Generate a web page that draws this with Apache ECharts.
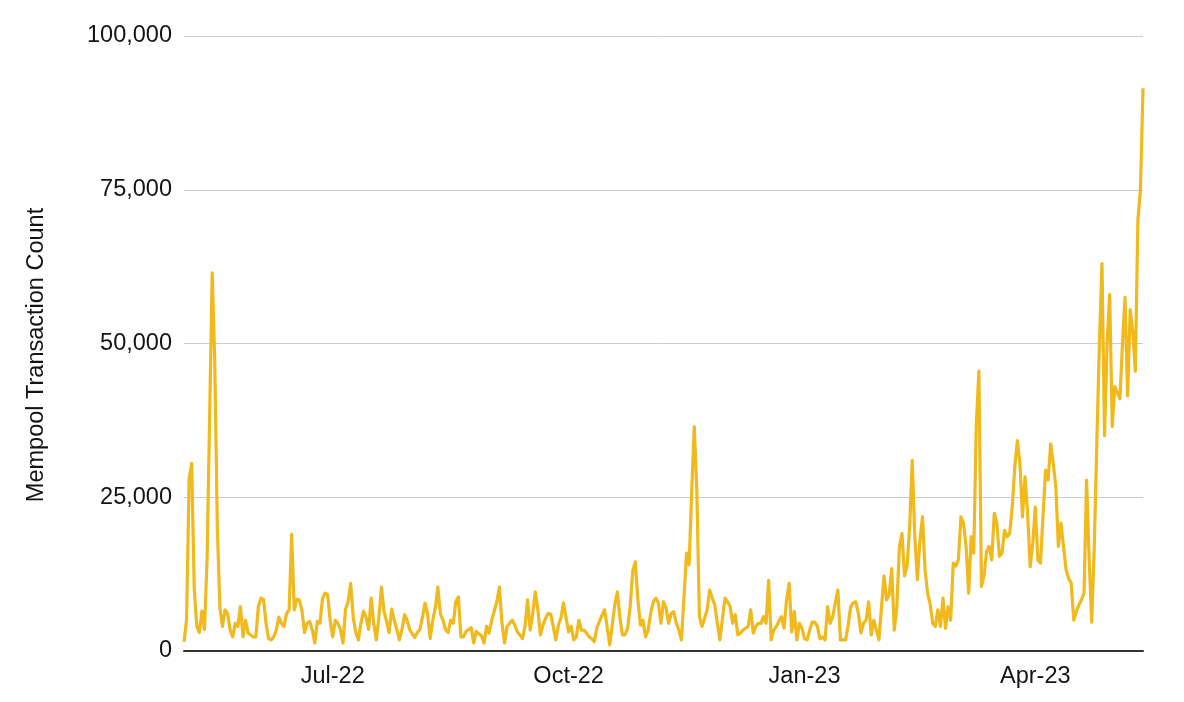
<!DOCTYPE html>
<html>
<head>
<meta charset="utf-8">
<script src="https://cdn.jsdelivr.net/npm/echarts@6/dist/echarts.min.js"></script>
<style>
  html, body { margin: 0; padding: 0; background: #ffffff; }
  #chart { width: 1184px; height: 702px; }
</style>
</head>
<body>
<div id="chart"></div>
<script>
// Daily mempool transaction counts, starting 2022-05-04
var startDate = '2022-05-04';
var mayJun22 = [1500,5000,28000,30500,10000,4000,3000,6500,3500,15000,38000,61500,47000,20000,7000,4000,6700,6100,3400,2300,4500,4000,7200,2300,5000,2900,2600,2300,2300,7200,8600,8400,4500,2000,1800,2300,3400,5500,4500,4000,6100,6700,19000,6700,8400,8300,6500,3000,4500,4800,3500,1300,4800,4500,8500,9400,9200,5000];
var julSep22 = [2300,5000,4500,3500,1300,6800,8000,11000,5500,3000,1800,4500,6500,5500,3500,8600,4500,1800,5500,10400,6500,4800,3000,6800,5000,3500,1800,3500,5900,5000,3500,2800,2200,3000,3500,5500,7800,6000,2000,5000,7000,10400,6000,5000,3500,3000,5000,4500,8000,8800,2300,2300,3200,3500,3800,1300,3200,2800,2500,1300,4000,2900,5000,6500,8000,10400,4500,1300,4000,4500,5000,4200,3100,2600,2000,4000,8300,3400,6100,9600,6700,2600,4200,5300,6100,6000,4000,1800,4200,5400,7800,5400];
var octDec22 = [3100,4000,1800,2300,5000,3400,3400,2900,2300,2000,1500,3700,4800,5800,6700,4000,1000,4200,7500,9600,5400,2600,2600,3700,7200,13000,14500,8300,4200,5000,2300,3400,6100,8000,8600,7800,4500,8000,7000,4500,6100,6400,4500,3400,1800,8800,15900,14000,26000,36500,26000,5600,4000,5300,6700,9900,8600,7500,4500,1800,5300,8600,8000,7200,4500,5900,2600,2900,3400,3700,4000,6700,2900,4000,4500,4500,5600,4500,11500,1800,3400,4000,4800,5600,3700,8300,11000,3100,6400,1800,4500,3700];
var janMar23 = [2000,1800,3400,4700,4700,4000,2000,2300,1800,7200,4500,5600,7800,9900,1800,1800,1800,4200,7200,7800,8000,6100,2900,4500,5000,8000,2600,5000,3400,1800,7000,12200,8300,9100,13400,3400,7200,17000,19100,12200,13800,20200,31000,18600,11600,18000,21800,13200,9400,7600,4500,4000,6700,4000,8600,3700,7200,5000,14300,13800,14800,21800,20800,17000,9400,18600,15900,37000,45500,10500,12200,16200,17000,14800,22400,20800,15400,15900,19600,18600,19100,23400,29900,34200,30500,21800,28300,22400,13700,17500];
var aprMay23 = [23400,14800,14300,21800,29400,27800,33700,30500,26700,17000,20800,17000,13200,11800,11000,5000,6400,7500,8300,9400,27800,15000,4700,17000,34000,50000,63000,35000,50000,58000,36500,43000,42000,41000,50000,57500,41500,55500,52000,45500,70000,75000,91500];
var yTicks = [0, 25000, 50000, 75000, 100000];
var monthNames = ['Jan','Feb','Mar','Apr','May','Jun','Jul','Aug','Sep','Oct','Nov','Dec'];
var quarterMonths = [0, 3, 6, 9];

var values = [].concat(mayJun22, julSep22, octDec22, janMar23, aprMay23);
var dates = [];
(function () {
  var p = startDate.split('-');
  var d0 = Date.UTC(+p[0], +p[1] - 1, +p[2]);
  for (var i = 0; i < values.length; i++) {
    dates.push(new Date(d0 + i * 86400000));
  }
})();
var categories = dates.map(function (d) {
  return d.getUTCFullYear() + '-' + (d.getUTCMonth() + 1) + '-' + d.getUTCDate();
});
function isQuarterStart(idx) {
  var d = dates[idx];
  return d.getUTCDate() === 1 && quarterMonths.indexOf(d.getUTCMonth()) >= 0;
}
function fmtLabel(idx) {
  var d = dates[idx];
  return monthNames[d.getUTCMonth()] + '-' + String(d.getUTCFullYear()).slice(2);
}

var FONT = '"Liberation Sans", Arial, Helvetica, sans-serif';
var TXT = '#141414';
var chart = echarts.init(document.getElementById('chart'), null, { renderer: 'canvas' });
chart.setOption({
  animation: false,
  backgroundColor: '#ffffff',
  grid: { left: 184, right: 41, top: 36, bottom: 51, containLabel: false },
  xAxis: {
    type: 'category',
    data: categories,
    boundaryGap: false,
    axisLine: { show: true, lineStyle: { color: '#333333', width: 2 } },
    axisTick: { show: false },
    splitLine: { show: false },
    axisLabel: {
      interval: function (idx) { return isQuarterStart(idx); },
      formatter: function (val, idx) { return fmtLabel(idx); },
      color: TXT,
      fontSize: 23.5,
      fontFamily: FONT,
      margin: 14
    }
  },
  yAxis: {
    type: 'value',
    min: yTicks[0],
    max: yTicks[yTicks.length - 1],
    interval: yTicks[1] - yTicks[0],
    axisLine: { show: false },
    axisTick: { show: false },
    splitLine: { show: true, lineStyle: { color: '#cccccc', width: 1 } },
    axisLabel: {
      formatter: function (v) { return v.toLocaleString('en-US'); },
      color: TXT,
      fontSize: 23.5,
      fontFamily: FONT,
      margin: 12
    }
  },
  graphic: [{
    type: 'text',
    x: 37,
    y: 355,
    rotation: Math.PI / 2,
    style: {
      text: 'Mempool Transaction Count',
      fill: TXT,
      font: '23.5px ' + FONT,
      textAlign: 'center',
      textVerticalAlign: 'middle'
    }
  }],
  series: [{
    type: 'line',
    data: values,
    showSymbol: false,
    symbol: 'none',
    lineStyle: { color: '#F1B91C', width: 3.2, join: 'round' },
    itemStyle: { color: '#F1B91C' },
    z: 3
  }]
});
</script>
</body>
</html>
